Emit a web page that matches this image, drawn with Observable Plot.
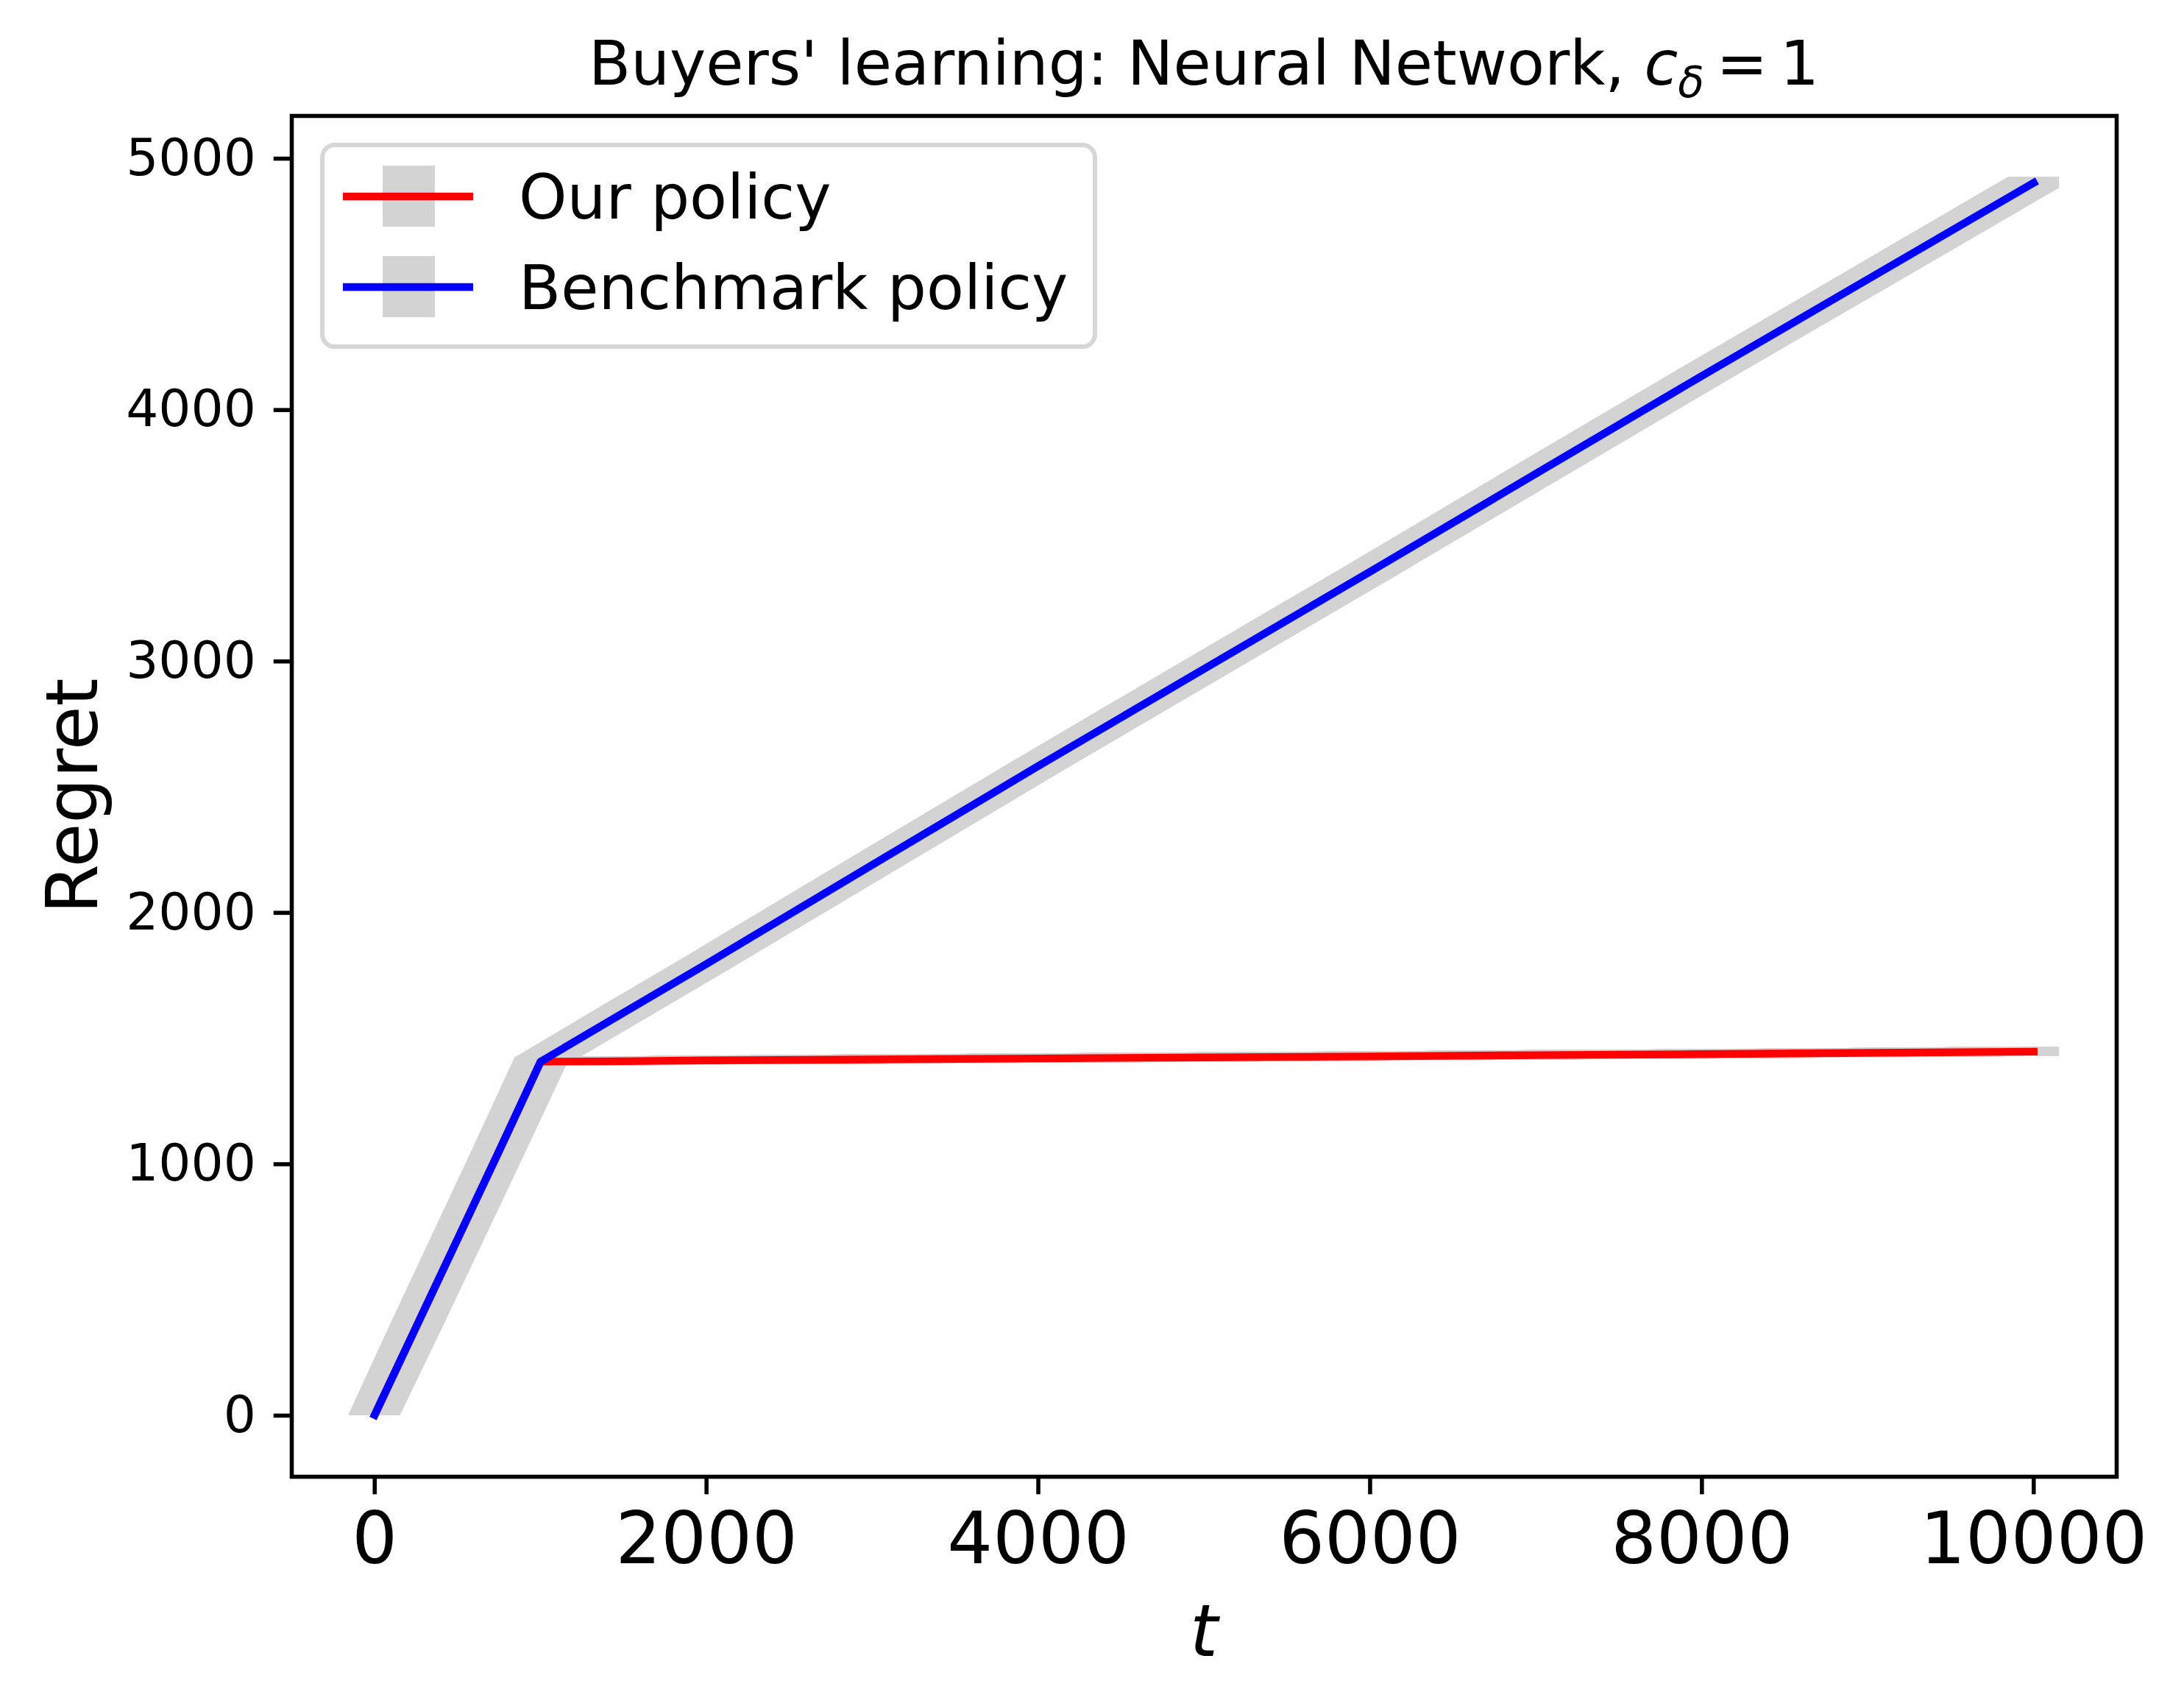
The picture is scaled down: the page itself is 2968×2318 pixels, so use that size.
<!DOCTYPE html>
<html><head><meta charset="utf-8">
<script src="https://cdn.jsdelivr.net/npm/d3@7"></script>
<script src="https://cdn.jsdelivr.net/npm/@observablehq/plot@0.6"></script>
<style>html,body{margin:0;padding:0;background:#fff;} svg{display:block}</style>
</head><body><div id="chart"></div>
<script>
// ---- data ----
const t        = [0, 250, 500, 750, 1000, 1500, 2000, 3000, 4000, 5000, 6000, 7000, 8000, 9000, 10000];
const ours     = [0, 350, 700, 1050, 1405, 1407, 1410, 1414, 1418, 1422, 1426, 1431, 1435, 1440, 1445];
const oursErr  = [0, 8, 10, 12, 14, 14, 14, 15, 15, 15, 15, 15, 15, 15, 15];
const bench    = [0, 350, 700, 1050, 1405, 1600, 1794, 2188, 2581, 2968, 3354, 3744, 4133, 4517, 4901];
const benchErr = [0, 8, 10, 12, 14, 15, 15, 16, 16, 17, 17, 18, 18, 19, 20];
const xTicks = [0, 2000, 4000, 6000, 8000, 10000];
const yTicks = [0, 1000, 2000, 3000, 4000, 5000];
const seriesNames  = ["Our policy", "Benchmark policy"];
const seriesColors = ["red", "blue"];
const titleMain = "Buyers' learning: Neural Network, ";
const xLabel = "t";
const yLabel = "Regret";

// ---- layout ----
const W = 2968, H = 2318;
const mL = 396, mR = 92, mT = 157, mB = 312;
const FONT = "DejaVu Sans";
const PT = 500 / 72; // px per point (dpi 500)
const bandColor = "lightgray";

const dOurs  = t.map((d, i) => ({t: d, y: ours[i],  e: oursErr[i]}));
const dBench = t.map((d, i) => ({t: d, y: bench[i], e: benchErr[i]}));
const all = [...dOurs, ...dBench];

// matplotlib-like 5% margins
const [xlo, xhi] = d3.extent(all, d => d.t);
const ylo = d3.min(all, d => d.y - d.e), yhi = d3.max(all, d => d.y + d.e);
const xpad = 0.05 * (xhi - xlo), ypad = 0.05 * (yhi - ylo);

const marks = [];
// error bars drawn with a very wide stroke (half-width ~34px) -> union of shifted bands
const halfW = 34;
for (const s of [dOurs, dBench]) {
  for (let k = -halfW; k <= halfW; k += 1) {
    marks.push(Plot.areaY(s, {x: "t", y1: d => d.y - d.e, y2: d => d.y + d.e,
      fill: bandColor, stroke: bandColor, strokeWidth: 2, dx: k, curve: "linear"}));
  }
}
marks.push(Plot.line(dOurs,  {x: "t", y: "y", stroke: seriesColors[0], strokeWidth: 1.5 * PT, strokeLinecap: "square", strokeLinejoin: "round"}));
marks.push(Plot.line(dBench, {x: "t", y: "y", stroke: seriesColors[1], strokeWidth: 1.5 * PT, strokeLinecap: "square", strokeLinejoin: "round"}));
marks.push(Plot.axisX({ticks: xTicks, tickSize: 3.5 * PT, tickPadding: 3.5 * PT, fontSize: 14 * PT,
  strokeWidth: 0.8 * PT, tickFormat: d3.format("d"), label: null}));
marks.push(Plot.axisY({ticks: yTicks, tickSize: 3.5 * PT, tickPadding: 3.5 * PT, fontSize: 10 * PT,
  strokeWidth: 0.8 * PT, tickFormat: d3.format("d"), label: null, dy: 1}));
marks.push(Plot.frame({stroke: "black", strokeWidth: 0.8 * PT}));

const svgNode = Plot.plot({
  width: W, height: H,
  marginLeft: mL, marginRight: mR, marginTop: mT, marginBottom: mB,
  style: {background: "white", color: "black", fontFamily: FONT},
  x: {domain: [xlo - xpad, xhi + xpad]},
  y: {domain: [ylo - ypad, yhi + ypad]},
  marks
});
document.getElementById("chart").appendChild(svgNode);

const svg = d3.select(svgNode);
const cx = mL + (W - mL - mR) / 2;
const cy = mT + (H - mT - mB) / 2;

// title with math-like c_δ
const title = svg.append("text").attr("x", cx).attr("y", 115)
  .attr("text-anchor", "middle").attr("font-family", FONT).attr("font-size", 12 * PT).attr("fill", "black");
title.append("tspan").text(titleMain);
title.append("tspan").attr("font-style", "italic").text("c");
title.append("tspan").attr("font-style", "italic").attr("font-size", 12 * PT * 0.7).attr("dy", 17).text("δ");
title.append("tspan").attr("dy", -17).text("\u2009=\u20091");

// axis labels
svg.append("text").attr("transform", `translate(132,${cy}) rotate(-90)`)
  .attr("text-anchor", "middle").attr("font-family", FONT).attr("font-size", 14 * PT).attr("fill", "black").text(yLabel);
svg.append("text").attr("x", cx).attr("y", 2250).attr("text-anchor", "middle")
  .attr("font-family", FONT).attr("font-style", "italic").attr("font-size", 14 * PT).attr("fill", "black").text(xLabel);

// legend
const lg = svg.append("g");
lg.append("rect").attr("x", 438).attr("y", 197).attr("width", 1050).attr("height", 274)
  .attr("rx", 17).attr("fill", "white").attr("fill-opacity", 0.8)
  .attr("stroke", "#d6d6d6").attr("stroke-width", 6);
const rowY = [267, 390];
seriesNames.forEach((name, i) => {
  const yc = rowY[i];
  lg.append("rect").attr("x", 520).attr("y", yc - 42).attr("width", 71).attr("height", 83).attr("fill", bandColor);
  lg.append("line").attr("x1", 466).attr("x2", 643).attr("y1", yc).attr("y2", yc)
    .attr("stroke", seriesColors[i]).attr("stroke-width", 1.5 * PT);
  lg.append("text").attr("x", 705).attr("y", yc + 30).attr("font-family", FONT)
    .attr("text-anchor", "start")
    .attr("font-size", 12 * PT).attr("fill", "black").text(name);
});
</script>
</body></html>
